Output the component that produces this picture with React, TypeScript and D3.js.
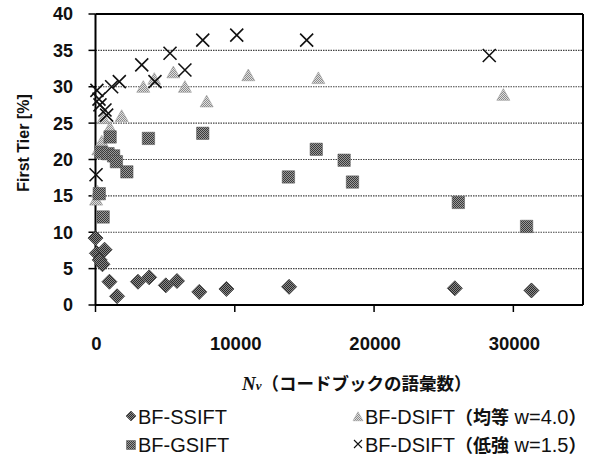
import React from "react";
import * as d3 from "d3";

const ssiftX = [0, 100, 300, 500, 650, 1000, 1550, 3050, 3850, 5050, 5850, 7450, 9400, 13900, 25800, 31300];
const ssiftY = [9.2, 7.1, 6.2, 5.6, 7.6, 3.2, 1.2, 3.2, 3.8, 2.7, 3.3, 1.8, 2.2, 2.5, 2.3, 2.0];

const gsiftX = [270, 550, 400, 900, 1300, 1050, 1500, 2250, 3800, 7700, 13850, 15850, 17850, 18450, 26050, 30950];
const gsiftY = [15.3, 12.1, 21.0, 20.8, 20.5, 23.1, 19.7, 18.3, 22.9, 23.6, 17.6, 21.4, 19.9, 16.9, 14.1, 10.8];

const dsiftUX = [40, 150, 200, 450, 560, 1040, 1880, 3430, 4220, 5590, 6420, 7980, 10970, 16000, 29280];
const dsiftUY = [14.4, 15.5, 21.3, 22.4, 25.6, 24.3, 25.9, 29.9, 31.0, 31.9, 29.9, 27.9, 31.5, 31.1, 28.8];

const dsiftLX = [40, 100, 250, 320, 680, 800, 1160, 1710, 3320, 4270, 5350, 6420, 7700, 10140, 15160, 28270];
const dsiftLY = [17.9, 29.5, 28.3, 27.5, 26.8, 26.1, 30.0, 30.7, 33.0, 30.7, 34.6, 32.3, 36.4, 37.1, 36.4, 34.3];

const xTicks = [0, 10000, 20000, 30000];
const yTicks = [0, 5, 10, 15, 20, 25, 30, 35, 40];
const gridValues = [5, 10, 15, 20, 25, 30, 35];

const W = 600;
const H = 461;

export default function App() {
  const x = d3.scaleLinear().domain([0, 35000]).range([95.5, 583]);
  const y = d3.scaleLinear().domain([0, 40]).range([305, 14]);

  const diamond = (cx: number, cy: number, r: number) =>
    `M${cx},${cy - r}L${cx + r},${cy}L${cx},${cy + r}L${cx - r},${cy}Z`;
  const square = (cx: number, cy: number, r: number) =>
    `M${cx - r},${cy - r}h${2 * r}v${2 * r}h${-2 * r}Z`;
  const tri = (cx: number, cy: number, r: number) =>
    `M${cx},${cy - r * 1.05}L${cx + r},${cy + r * 0.75}L${cx - r},${cy + r * 0.75}Z`;
  const cross = (cx: number, cy: number, r: number) =>
    `M${cx - r},${cy - r}L${cx + r},${cy + r}M${cx - r},${cy + r}L${cx + r},${cy - r}`;

  const fontSans = "'Liberation Sans', Arial, sans-serif";
  const fontJp = "'Noto Sans CJK JP', 'Liberation Sans', sans-serif";
  const fontSerif = "'Liberation Serif', 'DejaVu Serif', serif";

  return (
    <svg width={W} height={H} style={{ display: "block", position: "absolute", left: 0, top: 0 }}>
      <defs>
        <pattern id="pD" width="2" height="2" patternUnits="userSpaceOnUse">
          <rect width="2" height="2" fill="#8a8a8a" />
          <rect width="1" height="1" fill="#2a2a2a" />
          <rect x="1" y="1" width="1" height="1" fill="#2a2a2a" />
        </pattern>
        <pattern id="pS" width="2" height="2" patternUnits="userSpaceOnUse">
          <rect width="2" height="2" fill="#9a9a9a" />
          <rect width="1" height="1" fill="#3a3a3a" />
          <rect x="1" y="1" width="1" height="1" fill="#3a3a3a" />
        </pattern>
        <pattern id="pT" width="2" height="2" patternUnits="userSpaceOnUse">
          <rect width="2" height="2" fill="#e0e0e0" />
          <rect width="1" height="1" fill="#8a8a8a" />
          <rect x="1" y="1" width="1" height="1" fill="#8a8a8a" />
        </pattern>
      </defs>
      <rect width={W} height={H} fill="#fff" />

      {gridValues.map((v) => (
        <line key={"g" + v} x1={x(0)} x2={x(35000)} y1={y(v)} y2={y(v)}
          stroke="#444" strokeWidth={1.2} strokeDasharray="1.5,1" />
      ))}

      <line x1={x(0)} x2={x(35000)} y1={y(40)} y2={y(40)} stroke="#000" strokeWidth={2} />
      <line x1={x(35000)} x2={x(35000)} y1={y(40)} y2={y(0)} stroke="#000" strokeWidth={2} />
      <line x1={x(0)} x2={x(0)} y1={y(40)} y2={y(0)} stroke="#000" strokeWidth={2} />
      <line x1={x(0)} x2={x(35000)} y1={y(0)} y2={y(0)} stroke="#000" strokeWidth={2} />

      {yTicks.map((v) => (
        <g key={"y" + v}>
          <line x1={x(0) - 7} x2={x(0)} y1={y(v)} y2={y(v)} stroke="#000" strokeWidth={1.5} />
          <text x={73} y={y(v)} dy="0.36em" textAnchor="end" fontFamily={fontSans}
            fontSize={18} fontWeight="bold" fill="#111">{v}</text>
        </g>
      ))}
      {xTicks.map((v) => (
        <g key={"x" + v}>
          <line x1={x(v)} x2={x(v)} y1={y(0)} y2={y(0) + 7} stroke="#000" strokeWidth={1.5} />
          <text x={x(v) + 1} y={350} textAnchor="middle" fontFamily={fontSans}
            fontSize={18.5} fontWeight="bold" fill="#111">{v}</text>
        </g>
      ))}

      <text transform="translate(29,143) rotate(-90)" textAnchor="middle" fontFamily={fontSans}
        fontSize={16} fontWeight="bold" fill="#111">First Tier [%]</text>
      <text x={242} y={390} textAnchor="start" fill="#111">
        <tspan fontFamily={fontSerif} fontStyle="italic" fontWeight="bold" fontSize={19}>N</tspan>
        <tspan fontFamily={fontSerif} fontStyle="italic" fontWeight="bold" fontSize={13}>v</tspan>
        <tspan fontFamily={fontJp} fontWeight="bold" fontSize={17.5}>（コードブックの語彙数）</tspan>
      </text>

      {dsiftUX.map((v, i) => (
        <path key={"t" + i} d={tri(x(v), y(dsiftUY[i]), 6.5)} fill="url(#pT)" stroke="#999" strokeWidth={0.6} />
      ))}
      {gsiftX.map((v, i) => (
        <path key={"s" + i} d={square(x(v), y(gsiftY[i]), 6.2)} fill="url(#pS)" stroke="#555" strokeWidth={0.5} />
      ))}
      {ssiftX.map((v, i) => (
        <path key={"d" + i} d={diamond(x(v), y(ssiftY[i]), 7.5)} fill="url(#pD)" stroke="#333" strokeWidth={0.8} />
      ))}
      {dsiftLX.map((v, i) => (
        <path key={"c" + i} d={cross(x(v), y(dsiftLY[i]), 6.5)} fill="none" stroke="#111" strokeWidth={1.6} />
      ))}

      <g fontFamily={fontSans} fontSize={20} fill="#111">
        <path d={diamond(131, 416, 5)} fill="url(#pD)" stroke="#333" strokeWidth={0.6} />
        <text x={138} y={424}>BF-SSIFT</text>
        <path d={square(131, 445, 4.5)} fill="url(#pS)" stroke="#555" strokeWidth={0.5} />
        <text x={138} y={452}>BF-GSIFT</text>
        <path d={tri(358, 417, 5)} fill="url(#pT)" stroke="#999" strokeWidth={0.5} />
        <text x={365} y={424}>
          <tspan>BF-DSIFT</tspan>
          <tspan fontFamily={fontJp} fontWeight="bold" fontSize={18}>（均等</tspan>
          <tspan> w=4.0</tspan>
          <tspan fontFamily={fontJp} fontWeight="bold" fontSize={18}>）</tspan>
        </text>
        <path d={cross(358, 444, 4)} fill="none" stroke="#111" strokeWidth={1.1} />
        <text x={365} y={452}>
          <tspan>BF-DSIFT</tspan>
          <tspan fontFamily={fontJp} fontWeight="bold" fontSize={18}>（低強</tspan>
          <tspan> w=1.5</tspan>
          <tspan fontFamily={fontJp} fontWeight="bold" fontSize={18}>）</tspan>
        </text>
      </g>
    </svg>
  );
}
